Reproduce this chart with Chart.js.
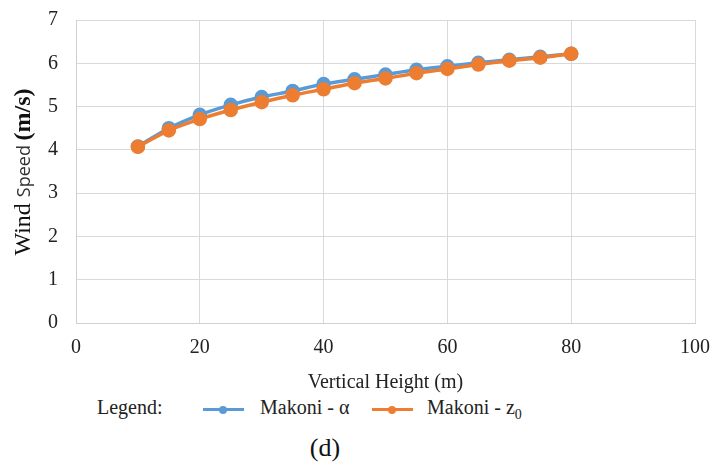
<!DOCTYPE html>
<html>
<head>
<meta charset="utf-8">
<script src="https://cdn.jsdelivr.net/npm/chart.js@4"></script>
<style>
  html, body { margin: 0; padding: 0; background: #fff; overflow: hidden; }
  #wrap { position: relative; width: 711px; height: 463px; overflow: hidden; }
  #chartBox { position: absolute; left: 0; top: -10px; width: 723px; height: 405px; }
  .legend { position: absolute; top: 396px; left: 0; width: 711px; height: 26px;
            font-family: "Liberation Serif", "Times New Roman", serif; font-size: 20px; color: #222; }
  .legend span { position: absolute; top: 0; white-space: nowrap; }
  .mark { position: absolute; top: 12px; width: 41px; height: 3px; }
  .mark i { position: absolute; left: 16px; top: -2.5px; width: 8px; height: 8px; border-radius: 50%; }
  .caption { position: absolute; top: 433px; left: 0; width: 650px; text-align: center;
             font-family: "Liberation Serif", serif; font-size: 26px; color: #111; }
</style>
</head>
<body>
<div id="wrap">
  <div id="chartBox"><canvas id="windChart"></canvas></div>
  <div class="legend">
    <span style="left:97px;">Legend:</span>
    <div class="mark" style="left:203px;background:#5B9BD5;"><i style="background:#5B9BD5;"></i></div>
    <span style="left:260px;">Makoni - α</span>
    <div class="mark" style="left:372px;background:#ED7D31;"><i style="background:#ED7D31;"></i></div>
    <span style="left:427px;">Makoni - z<sub style="font-size:14px;">0</sub></span>
  </div>
  <div class="caption">(d)</div>
</div>
<script>
// heights (m) and wind speeds (m/s)
const heights = [10, 15, 20, 25, 30, 35, 40, 45, 50, 55, 60, 65, 70, 75, 80];
const speedAlpha = [4.08, 4.50, 4.81, 5.04, 5.22, 5.36, 5.52, 5.63, 5.74, 5.85, 5.93, 6.01, 6.08, 6.15, 6.22];
const speedZ0 = [4.07, 4.45, 4.71, 4.92, 5.10, 5.26, 5.40, 5.54, 5.65, 5.77, 5.87, 5.97, 6.06, 6.13, 6.22];

const toPoints = (xs, ys) => xs.map((x, i) => ({ x: x, y: ys[i] }));

// draws the mixed-font y axis title like the original
const yTitlePlugin = {
    id: 'yTitle',
    afterDraw(chart) {
        const ctx = chart.ctx;
        const parts = [
            { text: 'Wind ', font: '24px "Liberation Serif"', color: '#111' },
            { text: 'Speed ', font: '18px "Open Sans"', color: '#333' },
            { text: '(m/s)', font: 'bold 24px "Liberation Serif"', color: '#111' }
        ];
        let total = 0;
        parts.forEach(p => { ctx.font = p.font; p.w = ctx.measureText(p.text).width; total += p.w; });
        ctx.save();
        ctx.translate(30, 182);
        ctx.rotate(-Math.PI / 2);
        ctx.textBaseline = 'alphabetic';
        let x = -total / 2;
        parts.forEach(p => {
            ctx.font = p.font;
            ctx.fillStyle = p.color;
            ctx.fillText(p.text, x, 0);
            x += p.w;
        });
        ctx.restore();
    }
};

new Chart(document.getElementById('windChart'), {
    type: 'scatter',
    data: {
        datasets: [
            {
                label: 'Makoni - α',
                data: toPoints(heights, speedAlpha),
                showLine: true,
                borderColor: '#5B9BD5',
                backgroundColor: '#5B9BD5',
                borderWidth: 3.5,
                pointRadius: 5.5,
                tension: 0.3,
                order: 1
            },
            {
                label: 'Makoni - z0',
                data: toPoints(heights, speedZ0),
                showLine: true,
                borderColor: '#ED7D31',
                backgroundColor: '#ED7D31',
                borderWidth: 3.5,
                pointRadius: 5.5,
                tension: 0.3,
                order: 0
            }
        ]
    },
    options: {
        responsive: true,
        maintainAspectRatio: false,
        animation: false,
        layout: { padding: { top: 8, right: 7, bottom: 0, left: 0 } },
        plugins: {
            legend: { display: false },
            tooltip: { enabled: false }
        },
        scales: {
            x: {
                type: 'linear',
                min: 0,
                max: 100,
                ticks: { stepSize: 20, color: '#222', padding: 13,
                         font: { family: 'Liberation Serif', size: 20 } },
                grid: { color: '#d9d9d9', drawTicks: false },
                border: { color: '#d0d0d0' },
                title: { display: true, text: 'Vertical Height (m)', color: '#222',
                         font: { family: 'Liberation Serif', size: 20 }, padding: { top: 0, bottom: 0 } },
                afterFit(scale) { scale.height = 72; }
            },
            y: {
                min: 0,
                max: 7,
                ticks: { stepSize: 1, color: '#222', padding: 18,
                         font: { family: 'Liberation Serif', size: 20 } },
                grid: { color: '#d9d9d9', drawTicks: false },
                border: { color: '#d0d0d0' },
                afterFit(scale) { scale.width = 76; }
            }
        }
    },
    plugins: [yTitlePlugin]
});
</script>
</body>
</html>
